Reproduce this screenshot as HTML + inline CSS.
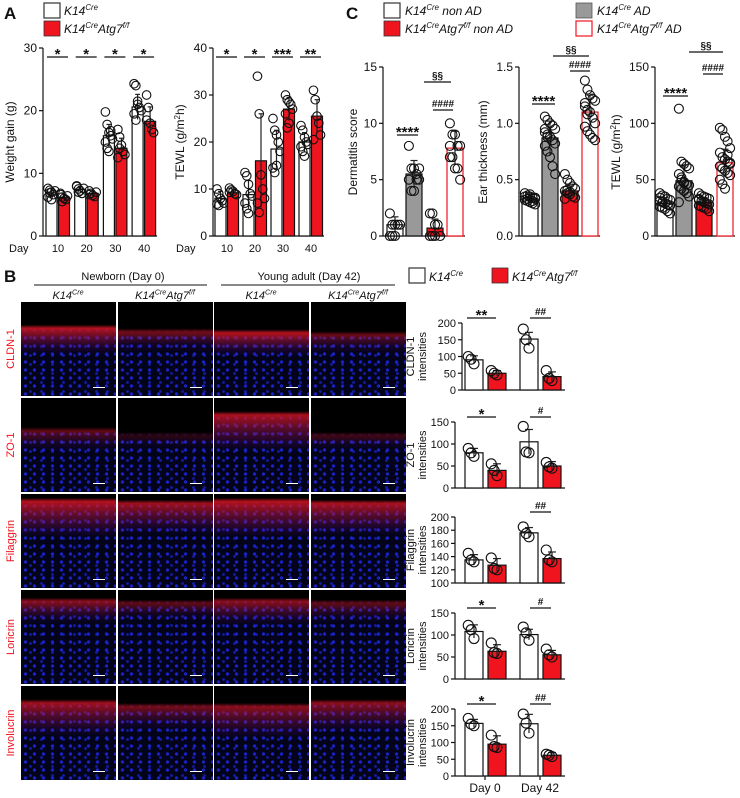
<!DOCTYPE html>
<html><head><meta charset="utf-8">
<style>
html,body{margin:0;padding:0;background:#fff;}
body{width:740px;height:798px;position:relative;overflow:hidden;font-family:"Liberation Sans",Arial,sans-serif;}
.mic{position:absolute;width:95px;height:94px;}
svg{position:absolute;left:0;top:0;}
</style></head>
<body>
<div id="mics"></div>
<svg id="fig" width="740" height="798" viewBox="0 0 740 798" font-family="Liberation Sans, Arial, sans-serif"></svg>
<script>
// ---------- DATA ----------
const aDays = ['10','20','30','40'];
const wCreMean = [7.0, 7.4, 16.0, 20.6];
const wCreSd = [0.6, 0.5, 1.8, 2.0];
const wKoMean = [6.2, 6.8, 14.0, 18.3];
const wKoSd = [0.5, 0.4, 1.6, 2.3];
const wCrePts = [[7.6,7.3,7.0,6.6,7.2,6.2,6.9,5.8],[7.9,7.5,7.2,6.8,7.6,8.0,7.0],[19.8,17.8,16.5,16.0,15.5,15.0,14.0,13.5,16.8],[24.3,24.0,21.5,20.5,20.0,19.5,18.5,21.0]];
const wKoPts = [[6.8,6.2,6.0,5.8,6.4,6.6,5.5],[7.2,6.8,6.5,6.3,7.0,6.6],[17.0,15.8,14.5,13.5,13.0,12.5,14.0],[22.5,20.5,18.0,17.0,16.5,18.5]];
const wSig = ['*','*','*','*'];
const tCreMean = [8.0, 8.8, 18.5, 20.0];
const tCreSd = [1.5, 3.0, 4.0, 2.0];
const tKoMean = [9.2, 16.0, 27.0, 25.5];
const tKoSd = [0.8, 10.0, 2.5, 3.5];
const tCrePts = [[10.0,9.0,8.0,7.5,7.0,6.8,6.5],[13.5,12.8,11.0,9.0,8.5,7.0,5.8,4.8],[25.0,22.5,21.5,20.0,18.0,14.5,13.5,15.0],[23.5,22.5,21.0,20.0,19.5,19.0,18.0,17.0]];
const tKoPts = [[10.2,9.8,9.5,9.0,8.8,9.3],[34.0,26.0,13.0,10.0,8.0,7.0,5.0],[30.0,29.0,28.5,28.0,27.0,26.0,23.0,24.0],[31.0,29.0,25.5,24.0,21.5,20.5]];
const tSig = ['*','*','***','**'];
const cGroups = ['K14Cre non AD','K14Cre AD','K14CreAtg7f/f non AD','K14CreAtg7f/f AD'];
const dermMean = [1.0, 5.5, 0.7, 7.8];
const dermSd = [0.7, 1.2, 0.8, 1.5];
const dermPts = [[2,1,1,1,1,0,0,0],[8,6,6,5.5,5,5,4,4,5,6],[2,2,1,1,0,0,0,0],[10,9,9,8,8,7,7,6,6,5,8]];
const earMean = [0.33, 0.87, 0.40, 1.10];
const earSd = [0.04, 0.15, 0.06, 0.15];
const earPts = [[0.38,0.36,0.35,0.34,0.33,0.32,0.31,0.30,0.29,0.28,0.35,0.33,0.37,0.31,0.34],[1.06,1.03,1.0,0.98,0.95,0.92,0.9,0.88,0.85,0.82,0.8,0.75,0.7,0.62,0.55,0.95,0.88],[0.55,0.5,0.47,0.44,0.42,0.4,0.38,0.37,0.35,0.34,0.33,0.41,0.39],[1.38,1.3,1.25,1.22,1.2,1.15,1.12,1.1,1.05,1.0,0.97,0.93,0.9,0.87,0.85,1.18,1.08]];
const tewlCMean = [29, 49, 30, 65];
const tewlCSd = [5, 14, 4, 12];
const tewlCPts = [[38,36,35,33,32,31,30,29,28,27,26,25,24,22,20,34,30],[113,66,64,62,60,55,50,48,46,45,44,42,40,38,35,30,52,47],[38,36,35,34,33,32,31,30,29,28,27,26,25,24,22,33],[96,94,88,84,78,74,70,68,66,64,62,60,58,56,54,50,46,42,72,65]];
const bDays = ['Day 0','Day 42'];
const cldnCre = [90,152], cldnKo=[50,40], cldnCreSd=[12,20], cldnKoSd=[8,14];
const cldnCrePts=[[100,92,78],[182,150,125]], cldnKoPts=[[58,50,45],[58,35,28]];
const zoCre=[80,105], zoKo=[40,50], zoCreSd=[10,28], zoKoSd=[15,10];
const zoCrePts=[[90,80,72],[140,82,80]], zoKoPts=[[55,40,28],[58,48,45]];
const filCre=[135,176], filKo=[127,137], filCreSd=[8,8], filKoSd=[10,10];
const filCrePts=[[145,135,132],[185,175,170]], filKoPts=[[138,122,120],[150,135,132]];
const lorCre=[108,101], lorKo=[63,55], lorCreSd=[15,12], lorKoSd=[15,10];
const lorCrePts=[[122,112,92],[118,105,88]];
const lorKoPts=[[82,60,58],[68,55,50]];
const invCre=[157,156], invKo=[95,62], invCreSd=[12,28], invKoSd=[25,8];
const invCrePts=[[172,155,150],[185,158,128]], invKoPts=[[122,88,85],[65,62,58]];
const bSig = [['**','##'],['*','#'],['','##'],['*','#'],['*','##']];
const rowNames = ['CLDN-1','ZO-1','Filaggrin','Loricrin','Involucrin'];

// ---------- DRAWING ----------
const NS='http://www.w3.org/2000/svg';
const svg=document.getElementById('fig');
function el(tag,attrs,parent){const e=document.createElementNS(NS,tag);for(const k in attrs)e.setAttribute(k,attrs[k]);(parent||svg).appendChild(e);return e;}
function txt(x,y,s,opt,parent){opt=opt||{};const t=el('text',{x:x,y:y,'font-size':opt.fs||11,'text-anchor':opt.anchor||'start',fill:opt.fill||'#111'},parent);if(opt.weight)t.setAttribute('font-weight',opt.weight);if(opt.italic)t.setAttribute('font-style','italic');if(opt.rot)t.setAttribute('transform','rotate(-90 '+x+' '+y+')');t.textContent=s;return t;}
function geno(x,y,parts,fs,parent){
  const t=el('text',{x:x,y:y,'font-size':fs,'font-style':'italic',fill:'#111'},parent);
  parts.forEach((p,i)=>{const ts=document.createElementNS(NS,'tspan');
    if(i%2===1){ts.setAttribute('font-size',fs*0.65);ts.setAttribute('dy',-fs*0.4);}
    else if(i>0){ts.setAttribute('dy',fs*0.4);}
    ts.textContent=p;t.appendChild(ts);});
  return t;}

function axis(g,o){
  const sy=v=>o.y0-(v-o.vmin)/(o.vmax-o.vmin)*(o.y0-o.y1);
  el('line',{x1:o.ax,y1:o.y0,x2:o.ax,y2:o.y1,stroke:'#111','stroke-width':1.2},g);
  el('line',{x1:o.ax,y1:o.y0,x2:o.xEnd,y2:o.y0,stroke:'#111','stroke-width':1.2},g);
  o.ticks.forEach((v,i)=>{const y=sy(v);
    const tk=el('line',{x1:o.ax-4,y1:y,x2:o.ax,y2:y,stroke:'#111','stroke-width':1.2},g);
    
    
    const lb=txt(o.ax-6,y+4,o.tickLabels[i],{anchor:'end',fs:o.fs||12},g);
    
    
  });
  return sy;}

function bar(g,sy,vmin,x,w,mean,sd,pts,fill,stroke,r,name){
  const top=sy(mean),base=sy(vmin);
  const rc=el('rect',{x:x,y:top,width:w,height:base-top,fill:fill,stroke:stroke,'stroke-width':1.2},g);
  
  
  const cx=x+w/2;
  const hi=sy(mean+sd), lo=sy(Math.max(vmin,mean-sd));
  el('line',{x1:cx,y1:hi,x2:cx,y2:lo,stroke:'#222','stroke-width':1.2},g);
  el('line',{x1:cx-w*0.22,y1:hi,x2:cx+w*0.22,y2:hi,stroke:'#222','stroke-width':1.2},g);
  pts.forEach((v,k)=>{const off=((k%5)-2)*w*0.16;
    const c=el('circle',{cx:cx+off,cy:sy(v),r:r,fill:'none',stroke:'#111','stroke-width':1.1},g);
    
    
  });}

function sig(g,x1,x2,y,s){
  if(!s)return;
  el('line',{x1:x1,y1:y,x2:x2,y2:y,stroke:'#111','stroke-width':1.2},g);
  const isStar=s.indexOf('*')>=0;
  txt((x1+x2)/2,y-(isStar?-2:3),s,{anchor:'middle',fs:isStar?15:10,weight:'bold'},g);}

const RED='#f0141e';
[['A',4,19],['C',346,19],['B',4,282]].forEach(p=>{const t=txt(p[1],p[2],p[0],{fs:17,weight:'bold'});});

const legA=el('g',{});
el('rect',{x:44,y:3,width:16,height:15,fill:'#fff',stroke:'#333','stroke-width':1.2},legA);
el('rect',{x:44,y:21,width:16,height:15,fill:RED,stroke:'#333','stroke-width':0.8},legA);
geno(64,15,['K14','Cre'],12,legA);
geno(64,33,['K14','Cre','Atg7','f/f'],12,legA);

function panelA(name,ax,start,pitch,vmax,ticks,creM,creS,creP,koM,koS,koP,sigs,ylabel,labX,dayX){
  const g=el('g',{});
  const o={ax:ax,y0:236,y1:48,vmin:0,vmax:vmax,ticks:ticks,tickLabels:ticks.map(String),xEnd:start+pitch*3+25};
  const sy=axis(g,o);
  aDays.forEach((d,i)=>{const x=start+i*pitch;
    bar(g,sy,0,x,11,creM[i],creS[i],creP[i],'#fff','#111',4.3,'bar-cre-day'+d);
    bar(g,sy,0,x+12.5,11,koM[i],koS[i],koP[i],RED,'#111',4.3,'bar-ko-day'+d);
    sig(g,x+1,x+22,57,sigs[i]);
    const dl=txt(x+12,252,d,{anchor:'middle',fs:11},g);
  });
  txt(dayX,252,'Day',{fs:11},g);
  const yl=el('text',{x:labX,y:142,'font-size':12,'text-anchor':'middle',fill:'#111',transform:'rotate(-90 '+labX+' 142)'},g);
  
  yl.innerHTML=ylabel;
}
panelA('weight-gain-chart',43,46,28.7,30,[0,10,20,30],wCreMean,wCreSd,wCrePts,wKoMean,wKoSd,wKoPts,wSig,'Weight gain (g)',14,9);
panelA('tewl-a-chart',213,215,28,40,[0,10,20,30,40],tCreMean,tCreSd,tCrePts,tKoMean,tKoSd,tKoPts,tSig,'TEWL (g/m<tspan font-size="8" dy="-4">2</tspan><tspan dy="4">h)</tspan>',184,176);

const legC=el('g',{});
el('rect',{x:384,y:3,width:16,height:15,fill:'#fff',stroke:'#333','stroke-width':1.2},legC);
el('rect',{x:384,y:21,width:16,height:15,fill:RED,stroke:'#333','stroke-width':0.8},legC);
el('rect',{x:576,y:3,width:16,height:15,fill:'#999',stroke:'#555','stroke-width':0.8},legC);
el('rect',{x:576,y:21,width:16,height:15,fill:'#fff',stroke:RED,'stroke-width':1.2},legC);
geno(405,15,['K14','Cre',' non AD'],12,legC);
geno(405,33,['K14','Cre','Atg7','f/f',' non AD'],12,legC);
geno(597,15,['K14','Cre',' AD'],12,legC);
geno(597,33,['K14','Cre','Atg7','f/f',' AD'],12,legC);

function panelC(name,ax,bx,vmax,ticks,labels,M,S,P,ylabel,labX,sigs){
  const g=el('g',{});
  const o={ax:ax,y0:236,y1:67,vmin:0,vmax:vmax,ticks:ticks,tickLabels:labels,xEnd:bx[3]+18};
  const sy=axis(g,o);
  const fills=['#fff','#999',RED,'#fff'], strokes=['#111','#111','#111',RED];
  cGroups.forEach((c,i)=>bar(g,sy,0,bx[i],16,M[i],S[i],P[i],fills[i],strokes[i],4.5,'bar-'+c.replace(/[^A-Za-z0-9]+/g,'-').toLowerCase()));
  sigs.forEach(s=>sig(g,s[0],s[1],s[2],s[3]));
  const yl=el('text',{x:labX,y:152,'font-size':12,'text-anchor':'middle',fill:'#111',transform:'rotate(-90 '+labX+' 152)'},g);
  
  yl.innerHTML=ylabel;
}
panelC('dermatitis-chart',383,[387,406,427,447],15,[0,5,10,15],['0','5','10','15'],dermMean,dermSd,dermPts,'Dermatitis score',357,
  [[397,418,135,'****'],[424,451,82,'§§'],[433,453,110,'####']]);
panelC('ear-thickness-chart',519,[522,542,562,582],1.5,[0,0.5,1,1.5],['0.0','0.5','1.0','1.5'],earMean,earSd,earPts,'Ear thickness (mm)',487,
  [[532,555,104,'****'],[553,589,56,'§§'],[570,590,71,'####']]);
panelC('tewl-c-chart',655,[657,676,696,717],150,[0,50,100,150],['0','50','100','150'],tewlCMean,tewlCSd,tewlCPts,'TEWL (g/m<tspan font-size="8" dy="-4">2</tspan><tspan dy="4">h)</tspan>',620,
  [[663,688,96,'****'],[689,723,52,'§§'],[703,723,74,'####']]);

const hdr=el('g',{});
txt(123,280,'Newborn (Day 0)',{anchor:'middle',fs:11},hdr);
el('line',{x1:34,y1:285,x2:207,y2:285,stroke:'#111','stroke-width':1},hdr);
txt(309,280,'Young adult (Day 42)',{anchor:'middle',fs:11},hdr);
el('line',{x1:221,y1:285,x2:395,y2:285,stroke:'#111','stroke-width':1},hdr);
const colX=[21,118,214,311];
[['K14','Cre'],['K14','Cre','Atg7','f/f'],['K14','Cre'],['K14','Cre','Atg7','f/f']].forEach((p,i)=>{
  const t=geno(colX[i]+47,299,p,11,hdr);t.setAttribute('text-anchor','middle');});
const legB=el('g',{});
el('rect',{x:409,y:268,width:16,height:15,fill:'#fff',stroke:'#333','stroke-width':1.2},legB);
el('rect',{x:492,y:268,width:16,height:15,fill:RED,stroke:'#333','stroke-width':0.8},legB);
geno(429,281,['K14','Cre'],12,legB);
geno(512,281,['K14','Cre','Atg7','f/f'],12,legB);

const rowY=[302,398,494,590,686];
const bands=[
 [[28,48,.85],[32,45,.55],[33,50,.85],[35,48,.5]],
 [[35,50,.45],[40,50,.2],[18,48,.8],[40,50,.3]],
 [[8,38,.85],[10,35,.75],[8,38,.85],[10,36,.8]],
 [[12,28,.65],[14,26,.45],[12,30,.65],[14,28,.45]],
 [[18,45,.75],[22,40,.55],[22,48,.65],[18,42,.65]]];
const mics=document.getElementById('mics');
rowNames.forEach((rn,r)=>{
  colX.forEach((x,c)=>{
    const d=document.createElement('div');d.className='mic';
    
    
    const b=bands[r][c];
    d.style.left=x+'px';d.style.top=rowY[r]+'px';
    d.style.background=
      'linear-gradient(to bottom, transparent '+(b[0]-4)+'%, rgba(210,20,30,'+b[2]+') '+b[0]+'%, rgba(170,20,60,'+(b[2]*0.6)+') '+((b[0]+b[1])/2)+'%, rgba(90,10,100,'+(b[2]*0.3)+') '+b[1]+'%, transparent '+(b[1]+8)+'%),'+
      'linear-gradient(to bottom, #000 0%, #000 '+(b[0]-3)+'%, rgba(0,0,0,0) '+(b[0]+4)+'%),'+
      'radial-gradient(circle at 50% 50%, #1a24c8 0 1.3px, transparent 2px) 0 0/9px 8px,'+
      'radial-gradient(circle at 50% 50%, #131ca0 0 1.1px, transparent 1.8px) 4px 4px/11px 9px,'+
      '#03031a';
    mics.appendChild(d);
    const sb=document.createElement('div');
    sb.style.cssText='position:absolute;left:'+(x+72)+'px;top:'+(rowY[r]+85)+'px;width:12px;height:1px;background:#fff;';
    
    mics.appendChild(sb);
  });
  const rl=txt(14,rowY[r]+47,rn,{anchor:'middle',fs:11,fill:RED,rot:true});
  
});

const bCharts=[
 {n:'cldn-1',ax:462,y1:323,y0:390,vmin:0,vmax:200,t:[0,50,100,150,200],cm:cldnCre,cs:cldnCreSd,cp:cldnCrePts,km:cldnKo,ks:cldnKoSd,kp:cldnKoPts},
 {n:'zo-1',ax:455,y1:422,y0:488,vmin:0,vmax:150,t:[0,50,100,150],cm:zoCre,cs:zoCreSd,cp:zoCrePts,km:zoKo,ks:zoKoSd,kp:zoKoPts},
 {n:'filaggrin',ax:455,y1:517,y0:583,vmin:100,vmax:200,t:[100,120,140,160,180,200],cm:filCre,cs:filCreSd,cp:filCrePts,km:filKo,ks:filKoSd,kp:filKoPts},
 {n:'loricrin',ax:455,y1:613,y0:679,vmin:0,vmax:150,t:[0,50,100,150],cm:lorCre,cs:lorCreSd,cp:lorCrePts,km:lorKo,ks:lorKoSd,kp:lorKoPts},
 {n:'involucrin',ax:455,y1:709,y0:776,vmin:0,vmax:200,t:[0,50,100,150,200],cm:invCre,cs:invCreSd,cp:invCrePts,km:invKo,ks:invKoSd,kp:invKoPts}];
const bBarX=[[465,488],[520,543]];
bCharts.forEach((o,r)=>{
  const g=el('g',{});
  const sy=axis(g,{ax:o.ax,y0:o.y0,y1:o.y1,vmin:o.vmin,vmax:o.vmax,ticks:o.t,tickLabels:o.t.map(String),xEnd:565,fs:11});
  bDays.forEach((d,i)=>{
    bar(g,sy,o.vmin,bBarX[i][0],18,o.cm[i],o.cs[i],o.cp[i],'#fff','#111',5,'bar-cre-'+d.replace(' ','').toLowerCase());
    bar(g,sy,o.vmin,bBarX[i][1],18,o.km[i],o.ks[i],o.kp[i],RED,'#111',5,'bar-ko-'+d.replace(' ','').toLowerCase());
    sig(g,bBarX[i][0]+(i?10:2),bBarX[i][1]+8,o.y1-5,bSig[r][i]);
  });
  const my=(o.y0+o.y1)/2;
  const l1=txt(414,my,rowNames[r],{anchor:'middle',fs:11,rot:true},g);
  
  const l2=txt(426,my,'intensities',{anchor:'middle',fs:11,rot:true},g);
  
  if(r===4){bDays.forEach((d,i)=>{const cx=bBarX[i][0]+20;
    el('line',{x1:cx,y1:o.y0,x2:cx,y2:o.y0+4,stroke:'#111','stroke-width':1.2},g);
    const l=txt(cx,792,d,{anchor:'middle',fs:12},g);});}
});
</script>
</body></html>
